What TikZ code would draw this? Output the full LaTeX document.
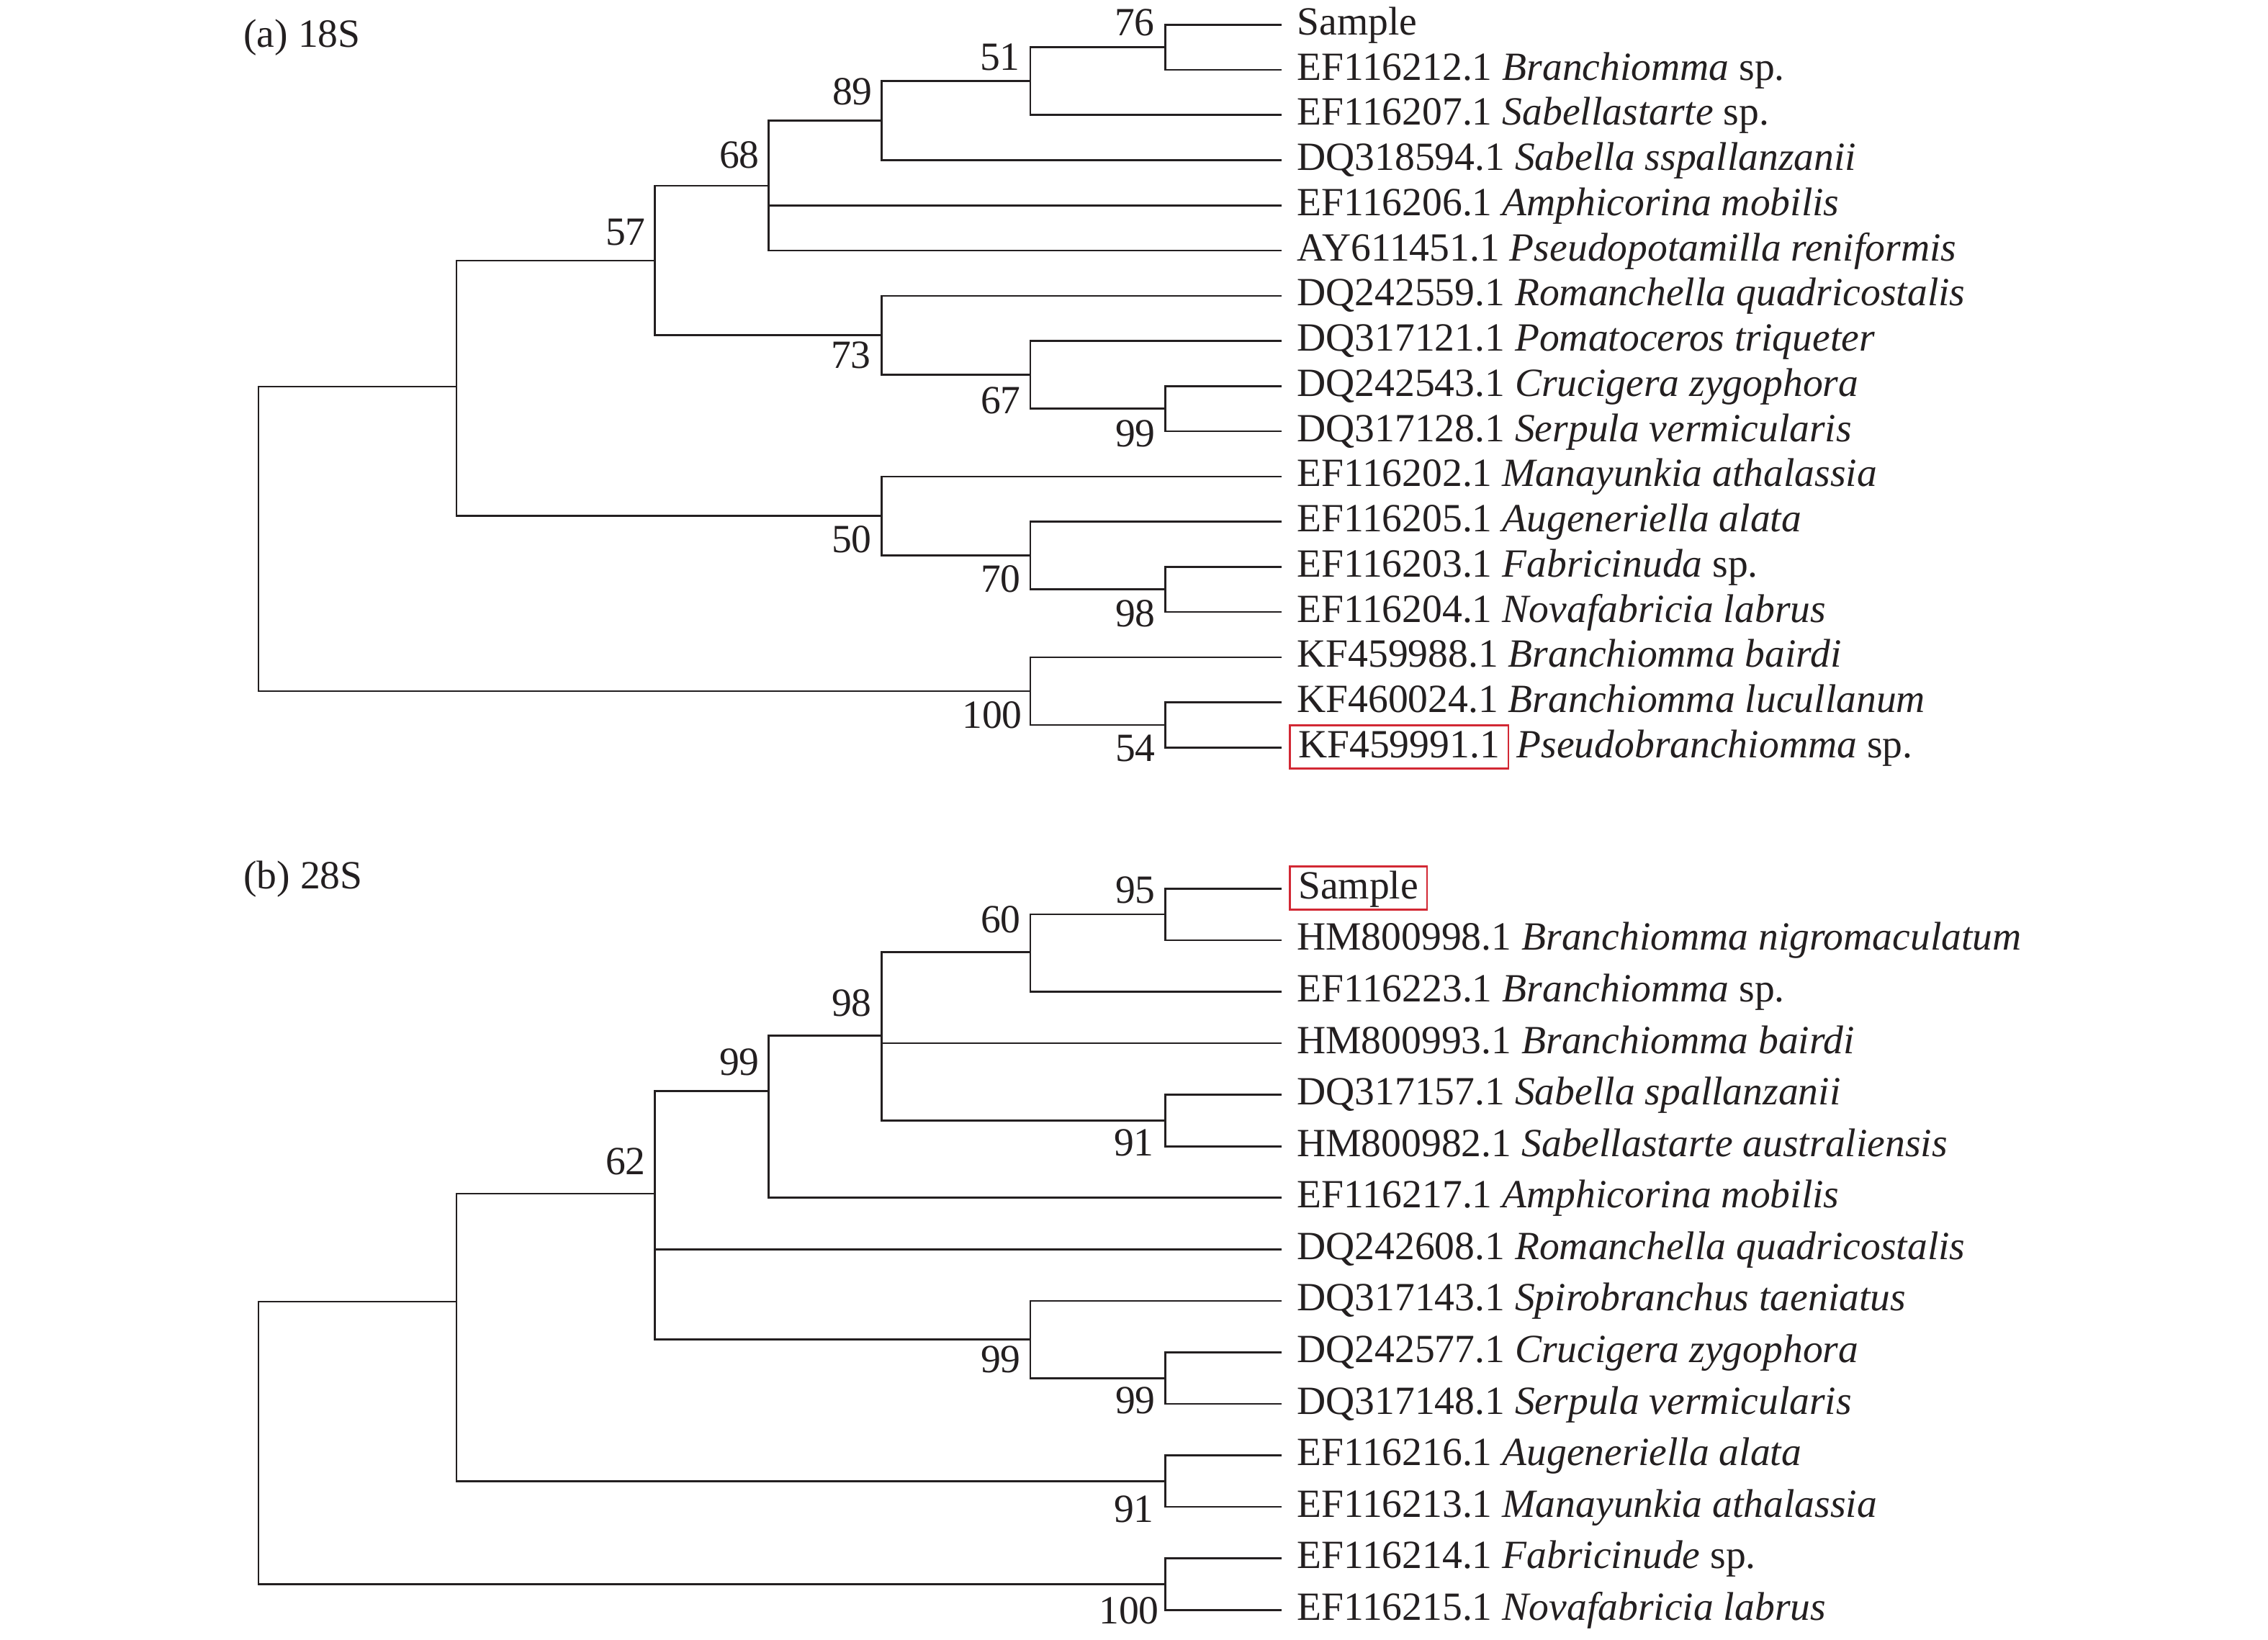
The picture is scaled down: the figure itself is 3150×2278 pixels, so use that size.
\documentclass[tikz,border=0pt]{standalone}
\usepackage{fontspec}
\setmainfont{Liberation Serif}
\definecolor{treeblack}{RGB}{35,31,32}
\definecolor{boxred}{RGB}{210,40,52}
\begin{document}
\begin{tikzpicture}[x=0.5pt,y=-0.5pt,
  branch/.style={draw=treeblack, line width=1.3pt},
  leaf/.style={anchor=base west, inner sep=0pt, text=treeblack, font=\fontsize{27.8}{33}\selectfont},
  bs/.style={anchor=base east, inner sep=0pt, text=treeblack, font=\fontsize{27.8}{33}\selectfont},
  redbox/.style={leaf, draw=boxred, line width=1.3pt, inner xsep=6pt, inner ysep=4pt, text height=18.5pt, text depth=3.5pt}]
\useasboundingbox[fill=white] (0,0) rectangle (3150,2278);

% ---------------- (a) 18S ----------------
\node[leaf] (ta) at (338,66) {(a) 18S};
\coordinate (a1) at (1780,34.3);
\coordinate (a2) at (1780,97.1);
\coordinate (a3) at (1780,159.8);
\coordinate (a4) at (1780,222.6);
\coordinate (a5) at (1780,285.3);
\coordinate (a6) at (1780,348.1);
\coordinate (a7) at (1780,410.9);
\coordinate (a8) at (1780,473.6);
\coordinate (a9) at (1780,536.4);
\coordinate (a10) at (1780,599.1);
\coordinate (a11) at (1780,661.9);
\coordinate (a12) at (1780,724.7);
\coordinate (a13) at (1780,787.4);
\coordinate (a14) at (1780,850.2);
\coordinate (a15) at (1780,912.9);
\coordinate (a16) at (1780,975.7);
\coordinate (a17) at (1780,1038.5);

\coordinate (A76) at (1618.6,65.7);
\coordinate (A51) at (1431,112.8);
\coordinate (A89) at (1224.4,167.7);
\coordinate (A68) at (1067.5,257.9);
\coordinate (A99) at (1618.6,567.8);
\coordinate (A67) at (1431,520.7);
\coordinate (A73) at (1224.4,465.8);
\coordinate (A57) at (909.6,361.9);
\coordinate (A98) at (1618.6,818.8);
\coordinate (A70) at (1431,771.8);
\coordinate (A50) at (1224.4,716.8);
\coordinate (AX) at (634,537);
\coordinate (A54) at (1618.6,1007.1);
\coordinate (A100) at (1431,960);
\coordinate (Ar) at (359,748);

\draw[branch]
  (Ar) |- (AX) (Ar) |- (A100)
  (AX) |- (A57) (AX) |- (A50)
  (A57) |- (A68) (A57) |- (A73)
  (A68) |- (A89) (A68) |- (a5) (A68) |- (a6)
  (A89) |- (A51) (A89) |- (a4)
  (A51) |- (A76) (A51) |- (a3)
  (A76) |- (a1) (A76) |- (a2)
  (A73) |- (a7) (A73) |- (A67)
  (A67) |- (a8) (A67) |- (A99)
  (A99) |- (a9) (A99) |- (a10)
  (A50) |- (a11) (A50) |- (A70)
  (A70) |- (a12) (A70) |- (A98)
  (A98) |- (a13) (A98) |- (a14)
  (A100) |- (a15) (A100) |- (A54)
  (A54) |- (a16) (A54) |- (a17);

\node[bs] (la76) at (1604,50) {76};
\node[bs] (la51) at (1417,98) {51};
\node[bs] (la89) at (1212,146) {89};
\node[bs] (la68) at (1055,234) {68};
\node[bs] (la57) at (897,341) {57};
\node[bs] (la73) at (1210,512) {73};
\node[bs] (la67) at (1418,575) {67};
\node[bs] (la99) at (1605,621) {99};
\node[bs] (la50) at (1211,768) {50};
\node[bs] (la70) at (1418,823) {70};
\node[bs] (la98) at (1605,871) {98};
\node[bs] (la100) at (1420,1011) {100};
\node[bs] (la54) at (1605,1057) {54};

\node[leaf] (ta1) at ([shift={(21,14)}]a1) {Sample};
\node[leaf] (ta2) at ([shift={(21,14)}]a2) {EF116212.1 \textit{Branchiomma} sp.};
\node[leaf] (ta3) at ([shift={(21,14)}]a3) {EF116207.1 \textit{Sabellastarte} sp.};
\node[leaf] (ta4) at ([shift={(21,14)}]a4) {DQ318594.1 \textit{Sabella sspallanzanii}};
\node[leaf] (ta5) at ([shift={(21,14)}]a5) {EF116206.1 \textit{Amphicorina mobilis}};
\node[leaf] (ta6) at ([shift={(21,14)}]a6) {AY611451.1 \textit{Pseudopotamilla reniformis}};
\node[leaf] (ta7) at ([shift={(21,14)}]a7) {DQ242559.1 \textit{Romanchella quadricostalis}};
\node[leaf] (ta8) at ([shift={(21,14)}]a8) {DQ317121.1 \textit{Pomatoceros triqueter}};
\node[leaf] (ta9) at ([shift={(21,14)}]a9) {DQ242543.1 \textit{Crucigera zygophora}};
\node[leaf] (ta10) at ([shift={(21,14)}]a10) {DQ317128.1 \textit{Serpula vermicularis}};
\node[leaf] (ta11) at ([shift={(21,14)}]a11) {EF116202.1 \textit{Manayunkia athalassia}};
\node[leaf] (ta12) at ([shift={(21,14)}]a12) {EF116205.1 \textit{Augeneriella alata}};
\node[leaf] (ta13) at ([shift={(21,14)}]a13) {EF116203.1 \textit{Fabricinuda} sp.};
\node[leaf] (ta14) at ([shift={(21,14)}]a14) {EF116204.1 \textit{Novafabricia labrus}};
\node[leaf] (ta15) at ([shift={(21,14)}]a15) {KF459988.1 \textit{Branchiomma bairdi}};
\node[leaf] (ta16) at ([shift={(21,14)}]a16) {KF460024.1 \textit{Branchiomma lucullanum}};
\node[redbox] (ta17id) at ([shift={(10,14)}]a17) {KF459991.1};
\node[leaf, xshift=5pt] (ta17) at (ta17id.base east) {\textit{Pseudobranchiomma} sp.};

% ---------------- (b) 28S ----------------
\node[leaf] (tb) at (338,1234) {(b) 28S};
\coordinate (b1) at (1780,1234.3);
\coordinate (b2) at (1780,1305.9);
\coordinate (b3) at (1780,1377.4);
\coordinate (b4) at (1780,1449.0);
\coordinate (b5) at (1780,1520.6);
\coordinate (b6) at (1780,1592.2);
\coordinate (b7) at (1780,1663.7);
\coordinate (b8) at (1780,1735.3);
\coordinate (b9) at (1780,1806.9);
\coordinate (b10) at (1780,1878.4);
\coordinate (b11) at (1780,1950.0);
\coordinate (b12) at (1780,2021.6);
\coordinate (b13) at (1780,2093.1);
\coordinate (b14) at (1780,2164.7);
\coordinate (b15) at (1780,2236.3);

\coordinate (B95) at (1618.6,1270.1);
\coordinate (B60) at (1431,1322.5);
\coordinate (B98) at (1224.4,1438.5);
\coordinate (B91) at (1618.6,1556.4);
\coordinate (B99a) at (1067.5,1515.7);
\coordinate (B62) at (909.6,1658);
\coordinate (B99b) at (1431,1860.5);
\coordinate (B99c) at (1618.6,1914.2);
\coordinate (BX) at (634,1808);
\coordinate (B91b) at (1618.6,2057.3);
\coordinate (B100) at (1618.6,2200.5);
\coordinate (Br) at (359,2004);

\draw[branch]
  (Br) |- (BX) (Br) |- (B100)
  (BX) |- (B62) (BX) |- (B91b)
  (B62) |- (B99a) (B62) |- (b8) (B62) |- (B99b)
  (B99a) |- (B98) (B99a) |- (b7)
  (B98) |- (B60) (B98) |- (b4) (B98) |- (B91)
  (B60) |- (B95) (B60) |- (b3)
  (B95) |- (b1) (B95) |- (b2)
  (B91) |- (b5) (B91) |- (b6)
  (B99b) |- (b9) (B99b) |- (B99c)
  (B99c) |- (b10) (B99c) |- (b11)
  (B91b) |- (b12) (B91b) |- (b13)
  (B100) |- (b14) (B100) |- (b15);

\node[bs] (lb95) at (1605,1254.6) {95};
\node[bs] (lb60) at (1418,1295) {60};
\node[bs] (lb98) at (1211,1411.5) {98};
\node[bs] (lb99a) at (1055,1493) {99};
\node[bs] (lb62) at (897,1631.6) {62};
\node[bs] (lb91) at (1603,1605.6) {91};
\node[bs] (lb99b) at (1418,1906.6) {99};
\node[bs] (lb99c) at (1605,1963.8) {99};
\node[bs] (lb91b) at (1603,2114) {91};
\node[bs] (lb100) at (1610,2255) {100};

\node[redbox] (tb1) at ([shift={(10,14)}]b1) {Sample};
\node[leaf] (tb2) at ([shift={(21,14)}]b2) {HM800998.1 \textit{Branchiomma nigromaculatum}};
\node[leaf] (tb3) at ([shift={(21,14)}]b3) {EF116223.1 \textit{Branchiomma} sp.};
\node[leaf] (tb4) at ([shift={(21,14)}]b4) {HM800993.1 \textit{Branchiomma bairdi}};
\node[leaf] (tb5) at ([shift={(21,14)}]b5) {DQ317157.1 \textit{Sabella spallanzanii}};
\node[leaf] (tb6) at ([shift={(21,14)}]b6) {HM800982.1 \textit{Sabellastarte australiensis}};
\node[leaf] (tb7) at ([shift={(21,14)}]b7) {EF116217.1 \textit{Amphicorina mobilis}};
\node[leaf] (tb8) at ([shift={(21,14)}]b8) {DQ242608.1 \textit{Romanchella quadricostalis}};
\node[leaf] (tb9) at ([shift={(21,14)}]b9) {DQ317143.1 \textit{Spirobranchus taeniatus}};
\node[leaf] (tb10) at ([shift={(21,14)}]b10) {DQ242577.1 \textit{Crucigera zygophora}};
\node[leaf] (tb11) at ([shift={(21,14)}]b11) {DQ317148.1 \textit{Serpula vermicularis}};
\node[leaf] (tb12) at ([shift={(21,14)}]b12) {EF116216.1 \textit{Augeneriella alata}};
\node[leaf] (tb13) at ([shift={(21,14)}]b13) {EF116213.1 \textit{Manayunkia athalassia}};
\node[leaf] (tb14) at ([shift={(21,14)}]b14) {EF116214.1 \textit{Fabricinude} sp.};
\node[leaf] (tb15) at ([shift={(21,14)}]b15) {EF116215.1 \textit{Novafabricia labrus}};
\end{tikzpicture}
\end{document}
